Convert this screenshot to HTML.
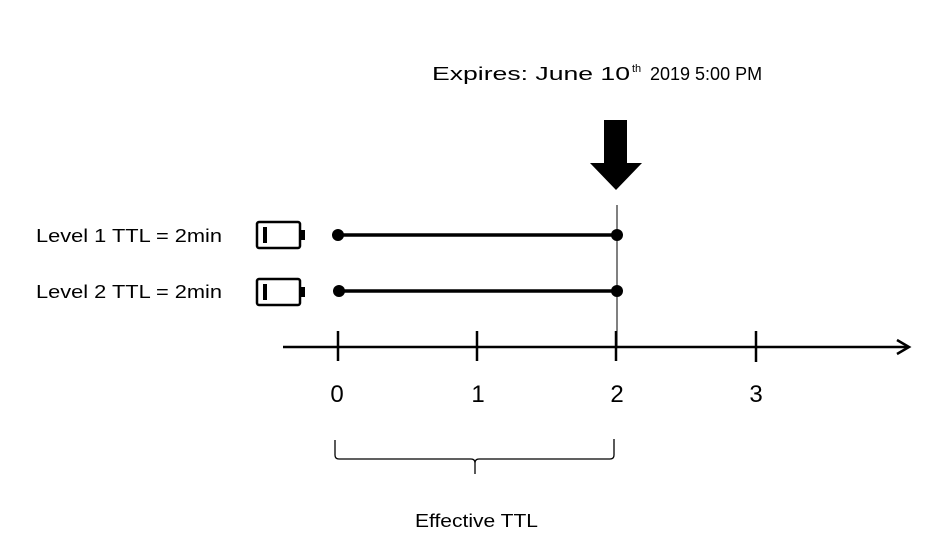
<!DOCTYPE html>
<html><head><style>
body{margin:0;background:#fff;}
svg{display:block;font-family:"Liberation Sans",sans-serif;}
</style></head><body>
<svg width="943" height="537" viewBox="0 0 943 537">
<text x="432" y="80" font-size="18" fill="#000" textLength="198" lengthAdjust="spacingAndGlyphs">Expires: June 10</text>
<text x="632" y="72" font-size="11">th</text>
<text x="650" y="80" font-size="18">2019 5:00 PM</text>
<polygon points="604,120 627,120 627,163 642,163 616,190 590,163 604,163" fill="#000"/>
<line x1="617" y1="205" x2="617" y2="346" stroke="#000" stroke-width="1"/>
<text x="36" y="242" font-size="18" textLength="186" lengthAdjust="spacingAndGlyphs">Level 1 TTL = 2min</text>
<text x="36" y="298" font-size="18" textLength="186" lengthAdjust="spacingAndGlyphs">Level 2 TTL = 2min</text>
<g fill="none" stroke="#000" stroke-width="2.5">
<rect x="257" y="222" width="43" height="26" rx="2"/>
<rect x="257" y="279" width="43" height="26" rx="2"/>
</g>
<rect x="300" y="230" width="5" height="10" fill="#000"/>
<rect x="300" y="287" width="5" height="10" fill="#000"/>
<rect x="263" y="227" width="4" height="16" fill="#000"/>
<rect x="263" y="284" width="4" height="16" fill="#000"/>
<line x1="338" y1="235" x2="617" y2="235" stroke="#000" stroke-width="3.5"/>
<line x1="338" y1="291" x2="617" y2="291" stroke="#000" stroke-width="3.5"/>
<circle cx="338" cy="235" r="6"/><circle cx="617" cy="235" r="6"/>
<circle cx="339" cy="291" r="6"/><circle cx="617" cy="291" r="6"/>
<g stroke="#000" stroke-width="2.5" fill="none">
<line x1="283" y1="347" x2="908" y2="347"/>
<polyline points="897,340 909,347 897,354"/>
<line x1="338" y1="331" x2="338" y2="361"/>
<line x1="477" y1="331" x2="477" y2="361"/>
<line x1="616" y1="331" x2="616" y2="361"/>
<line x1="756" y1="331" x2="756" y2="362"/>
</g>
<g font-size="24" text-anchor="middle">
<text x="337" y="402">0</text><text x="478" y="402">1</text><text x="617" y="402">2</text><text x="756" y="402">3</text>
</g>
<path d="M335,440 V455 Q335,459 339,459 H471 Q475,459 475,463 V474 M475,463 Q475,459 479,459 H610 Q614,459 614,455 V439" fill="none" stroke="#000" stroke-width="1.3"/>
<text x="415" y="527" font-size="18" textLength="123" lengthAdjust="spacingAndGlyphs">Effective TTL</text>
</svg>
</body></html>
